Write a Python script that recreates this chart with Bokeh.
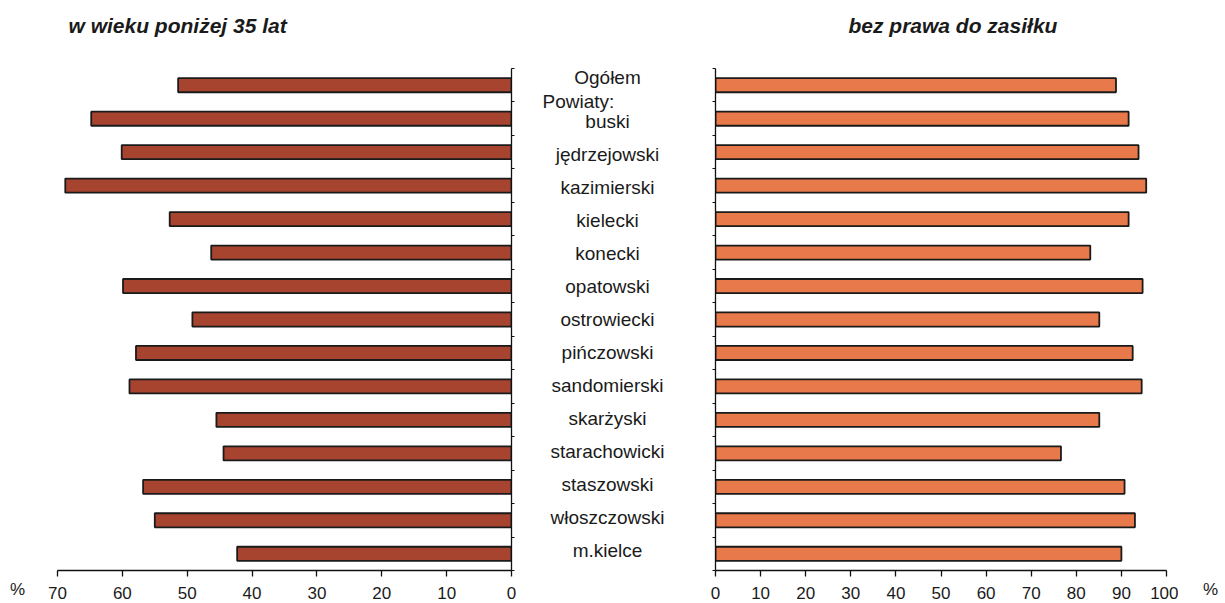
from bokeh.plotting import figure
from bokeh.models import Range1d, FixedTicker, ColumnDataSource, CustomJSTickFormatter
from bokeh.layouts import row, column
from bokeh.embed import file_html
from bokeh.resources import INLINE
from bokeh.core.properties import value

categories = ["Ogółem", "buski", "jędrzejowski", "kazimierski", "kielecki", "konecki",
              "opatowski", "ostrowiecki", "pińczowski", "sandomierski", "skarżyski",
              "starachowicki", "staszowski", "włoszczowski", "m.kielce"]
under35 = [51.4, 64.8, 60.1, 68.8, 52.7, 46.3, 59.9, 49.2, 57.9, 58.9, 45.5, 44.4, 56.8, 55.0, 42.3]
no_benefit = [88.8, 91.6, 93.8, 95.5, 91.6, 83.1, 94.7, 85.1, 92.5, 94.5, 85.1, 76.6, 90.7, 93.0, 90.0]
left_ticks = [0, 10, 20, 30, 40, 50, 60, 70]
right_ticks = [0, 10, 20, 30, 40, 50, 60, 70, 80, 90, 100]
left_title = "w wieku poniżej 35 lat"
right_title = "bez prawa do zasiłku"
group_label = "Powiaty:"
unit_label = "%"

FONT = "Liberation Sans"
n = len(categories)
ypos = [i + 0.5 for i in range(n)]
zeros = [0] * n

HEAD = 50
FH = 502
TOP = 68 - HEAD
BOT = 31
H = TOP + FH + BOT


def style_xaxis(ax):
    ax.axis_line_color = "#111111"
    ax.axis_line_width = 1.3
    ax.major_tick_line_color = "#111111"
    ax.major_tick_line_width = 1.3
    ax.major_tick_out = 6
    ax.major_tick_in = 0
    ax.minor_tick_line_color = None
    ax.major_label_text_font = FONT
    ax.major_label_text_font_size = "17px"
    ax.major_label_text_color = "#1a1a1a"
    ax.major_label_standoff = 10


def style(p):
    p.xgrid.visible = False
    p.ygrid.visible = False
    p.outline_line_color = None
    p.background_fill_color = "white"
    p.border_fill_color = "white"
    for ax in p.xaxis:
        style_xaxis(ax)
    for ax in p.yaxis:
        ax.axis_line_color = "#111111"
        ax.axis_line_width = 1.3
        ax.major_tick_line_color = "#111111"
        ax.major_tick_line_width = 1.2
        ax.major_tick_out = 3
        ax.major_tick_in = 0
        ax.minor_tick_line_color = None
        ax.major_label_standoff = 0
        ax.formatter = CustomJSTickFormatter(code="return ''")
        ax.ticker = FixedTicker(ticks=list(range(n + 1)))


def bare(f):
    f.axis.visible = False
    f.xgrid.visible = False
    f.ygrid.visible = False
    f.outline_line_color = None
    return f


def unit_strip(width, x):
    f = figure(width=width, height=H, x_range=Range1d(0, width), y_range=Range1d(0, 1),
               output_backend="svg", toolbar_location=None,
               min_border_left=0, min_border_right=0, min_border_top=TOP, min_border_bottom=BOT)
    f.yaxis.visible = False
    f.xgrid.visible = False
    f.ygrid.visible = False
    f.outline_line_color = None
    ax = f.xaxis[0]
    style_xaxis(ax)
    ax.axis_line_color = None
    ax.major_tick_line_color = None
    ax.ticker = FixedTicker(ticks=[x])
    ax.major_label_overrides = {x: unit_label}
    return f


# Header strip with the two panel titles
ph = bare(figure(width=1224, height=HEAD, x_range=Range1d(0, 1224), y_range=Range1d(HEAD, 0),
                 output_backend="svg", toolbar_location=None,
                 min_border_left=0, min_border_right=0, min_border_top=0, min_border_bottom=0))
ph.text(x=[68, 848], y=[25, 25], text=[left_title, right_title], text_font=value(FONT),
        text_font_size="21px", text_font_style="bold italic", text_color="#1a1a1a",
        text_align="left", text_baseline="middle")

# Left '%' strip (page x 0..40)
p_pct_l = unit_strip(40, 17)

# Left panel
pl = figure(frame_width=454, frame_height=FH, x_range=Range1d(70, 0), y_range=Range1d(n, 0),
            y_axis_location="right", output_backend="svg", toolbar_location=None,
            min_border_left=17, min_border_right=12, min_border_top=TOP, min_border_bottom=BOT)
pl.hbar(y=ypos, left=zeros, right=under35, height=0.42, fill_color="#A64430",
        line_color="#1a1a1a", line_width=1.8)
pl.xaxis.ticker = FixedTicker(ticks=left_ticks)
style(pl)

# Middle labels
pm = bare(figure(width=180, height=H, x_range=Range1d(0, 180), y_range=Range1d(n, 0),
                 output_backend="svg", toolbar_location=None,
                 min_border_left=0, min_border_right=0, min_border_top=TOP, min_border_bottom=BOT))
offsets = [-8] + [3] * (n - 1)
src = ColumnDataSource(dict(x=[84] * n, y=ypos, t=categories, off=offsets))
pm.text(x="x", y="y", text="t", y_offset="off", source=src, text_font=value(FONT),
        text_font_size="19px", text_color="#1a1a1a", text_align="center", text_baseline="middle")
pm.text(x=[19], y=[1.0], text=[group_label], text_font=value(FONT), text_font_size="19px",
        text_color="#1a1a1a", text_align="left", text_baseline="middle")

# Right panel
pr = figure(frame_width=451, frame_height=FH, x_range=Range1d(0, 100), y_range=Range1d(n, 0),
            y_axis_location="left", output_backend="svg", toolbar_location=None,
            min_border_left=12, min_border_right=12, min_border_top=TOP, min_border_bottom=BOT)
pr.hbar(y=ypos, left=zeros, right=no_benefit, height=0.42, fill_color="#E8794A",
        line_color="#1a1a1a", line_width=1.8)
pr.xaxis.ticker = FixedTicker(ticks=right_ticks)
style(pr)

# Right '%' strip
p_pct_r = unit_strip(46, 32)

layout = column(ph, row(p_pct_l, pl, pm, pr, p_pct_r, spacing=0), spacing=0)
open("out.html", "w").write(file_html(layout, INLINE))
